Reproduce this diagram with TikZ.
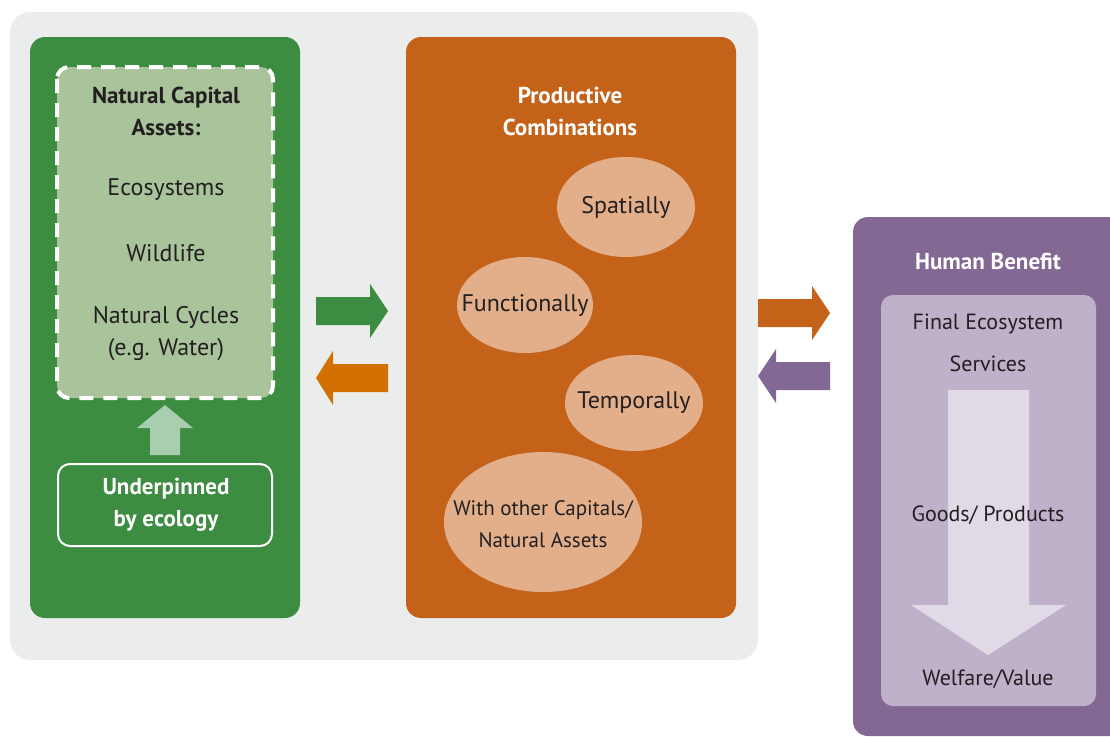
\documentclass[tikz,border=0pt]{standalone}
\usepackage{fontspec}
\setmainfont{PT Sans}

\definecolor{panelgrey}{HTML}{EBEDEC}
\definecolor{natgreen}{HTML}{3C8C41}
\definecolor{palegreen}{HTML}{A9C39B}
\definecolor{mintgreen}{HTML}{A9CDAF}
\definecolor{prodorange}{HTML}{C4621A}
\definecolor{flowTorange}{HTML}{D27003}
\definecolor{peach}{HTML}{E2AF8A}
\definecolor{benpurple}{HTML}{836894}
\definecolor{lilac}{HTML}{C0B1CB}
\definecolor{palelilac}{HTML}{E0D9E6}
\definecolor{txtgrey}{HTML}{231F20}

\tikzset{
  title/.style={text=white, align=center, font=\bfseries\fontsize{23}{32}\selectfont},
  item/.style={text=txtgrey, align=center, font=\fontsize{24}{32}\selectfont}
}

\begin{document}
\begin{tikzpicture}[x=1pt, y=-1pt]
  \useasboundingbox (0,0) rectangle (1110,736);

  % grey panel behind the first two boxes
  \fill[panelgrey, rounded corners=20pt] (10,12) rectangle (758,660);

  % natural capital column
  \fill[natgreen, rounded corners=15pt] (30,37) rectangle (300,618);
  \draw[white, line width=4pt, dash pattern=on 14pt off 10pt, fill=palegreen, rounded corners=12pt]
    (57,67) rectangle (273,398);
  \node[title, text=txtgrey] (assets) at (166,111) {Natural Capital\\Assets:};
  \node[item] (ecosys) at (166,190) {Ecosystems};
  \node[item] (wildlife) at (166,253) {Wildlife};
  \node[item] (cycles) at (166,334) {Natural Cycles\\(e.g. Water)};

  % small arrow up into the assets
  \fill[mintgreen] (150,455) -- (150,428) -- (137,428) -- (165,405) -- (193,428) -- (180,428) -- (180,455) -- cycle;

  \draw[white, line width=2pt, rounded corners=12pt] (58,464) rectangle (272,546);
  \node[title] (ecology) at (166,505) {Underpinned\\by ecology};

  % arrows between the columns
  \fill[natgreen] (316,297) -- (370,297) -- (370,284) -- (388,311) -- (370,338) -- (370,325) -- (316,325) -- cycle;
  \fill[flowTorange] (388,364) -- (333,364) -- (333,351) -- (316,378) -- (333,405) -- (333,392) -- (388,392) -- cycle;

  % productive combinations column
  \fill[prodorange, rounded corners=15pt] (406,37) rectangle (736,618);
  \node[title] (prod) at (570,111) {Productive\\Combinations};
  \fill[peach] (626,207) ellipse [x radius=69, y radius=50];
  \fill[peach] (525,305) ellipse [x radius=68, y radius=48];
  \fill[peach] (634,403) ellipse [x radius=69, y radius=48];
  \fill[peach] (543,522) ellipse [x radius=99, y radius=70];
  \node[item] (spatial) at (626,207) {Spatially};
  \node[item] (funct) at (525,305) {Functionally};
  \node[item] (tempo) at (634,403) {Temporally};
  \node[item, font=\fontsize{21}{32}\selectfont] (capitals) at (543,524) {With other Capitals/\\Natural Assets};

  % arrows to and from the human benefit column
  \fill[prodorange] (758,299) -- (812,299) -- (812,286) -- (830,313) -- (812,340) -- (812,327) -- (758,327) -- cycle;
  \fill[benpurple] (830,362) -- (776,362) -- (776,349) -- (758,376) -- (776,403) -- (776,390) -- (830,390) -- cycle;

  % human benefit column
  \fill[benpurple, rounded corners=15pt] (853,217) rectangle (1130,736);
  \node[title] (benefit) at (988,261) {Human Benefit};
  \fill[lilac, rounded corners=12pt] (881,295) rectangle (1096,706);
  \fill[palelilac] (948,390) -- (1029,390) -- (1029,605) -- (1066,605) -- (988,655) -- (911,605) -- (948,605) -- cycle;
  \node[item, font=\fontsize{22}{42}\selectfont] (final) at (988,343) {Final Ecosystem\\Services};
  \node[item, font=\fontsize{22}{32}\selectfont] (goods) at (988,515) {Goods/ Products};
  \node[item, font=\fontsize{22}{32}\selectfont] (welfare) at (988,679) {Welfare/Value};
\end{tikzpicture}
\end{document}
